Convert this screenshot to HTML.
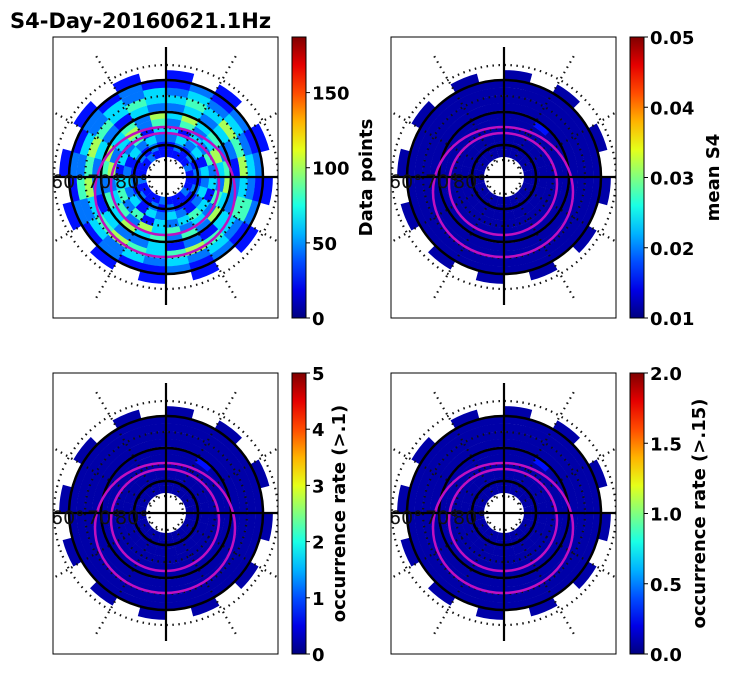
<!DOCTYPE html>
<html><head><meta charset="utf-8"><style>
body{margin:0;background:#fff;}
svg{display:block;font-family:"DejaVu Sans","Liberation Sans",sans-serif;}
</style></head><body>
<svg id="fig" width="731" height="674" viewBox="0 0 731 674">
<text x="10" y="28" font-size="21" font-weight="bold">S4-Day-20160621.1Hz</text>
</svg>
<script>
// Ring data: each string = 24 sectors clockwise from top; digit d -> value fraction d/9 of colour max; '.' = no data
const ringsCounts = [
 "111121112111211112111211",
 "121212121112121212112121",
 "232313232123231323213232",
 "313242313432314243132413",
 "242353242324352432523524",
 "353424535242435342453425",
 "232321223121322312232132",
 "343545343454345435454343",
 "232323242323232324232323",
 "121212121212112121212121",
 "1.1.1.1.1.1.1.1.1.1.1.1."
];
const ringsLow = [
 "000000000000000000000000",
 "000000000000000000000000",
 "000000000000000000000000",
 "000000000000000000000000",
 "000000000000000000000000",
 "001000000000000000000000",
 "000000000000000000000000",
 "000000000000000000000000",
 "000000000000000000000000",
 "000000000000000000000000",
 "0.0.0.0.0.0.0.0.0.0.0.0."
];
const cbTicks1 = ["0","50","100","150"];
const cbVals1 = [0,50,100,150];
const cbTicks2 = ["0.01","0.02","0.03","0.04","0.05"];
const cbVals2 = [0.01,0.02,0.03,0.04,0.05];
const cbTicks3 = ["0","1","2","3","4","5"];
const cbVals3 = [0,1,2,3,4,5];
const cbTicks4 = ["0.0","0.5","1.0","1.5","2.0"];
const cbVals4 = [0,0.5,1,1.5,2];

const NS="http://www.w3.org/2000/svg";
const fig=document.getElementById('fig');
function mk(tag,attrs,parent){const e=document.createElementNS(NS,tag);for(const k in attrs)e.setAttribute(k,attrs[k]);(parent||fig).appendChild(e);return e;}
function jet(t){t=Math.max(0,Math.min(1,t));
 const r=Math.max(0,Math.min(1,1.5-Math.abs(4*t-3))),g=Math.max(0,Math.min(1,1.5-Math.abs(4*t-2))),b=Math.max(0,Math.min(1,1.5-Math.abs(4*t-1)));
 return `rgb(${Math.round(r*255)},${Math.round(g*255)},${Math.round(b*255)})`;}
function pt(cx,cy,r,a){const t=(a-90)*Math.PI/180;return [cx+r*Math.cos(t),cy+r*Math.sin(t)];}

function panel(px,py,rings,cbx,ticks,vals,vmin,vmax,label,name){
 const W=225,H=281,cx=px+113,cy=py+140;
 const g=mk('g',{});
 
 
 const cp='clip-'+name;
 const d=mk('clipPath',{id:cp},g);mk('rect',{x:px,y:py,width:W,height:H},d);
 const inner=mk('g',{'clip-path':`url(#${cp})`},g);
 rings.forEach((s,i)=>{
  const r0=20+i*7.7,r1=r0+7.9+(i==10?2:0);
  for(let j=0;j<24;j++){const c=s[j];if(c==='.')continue;
   const a0=j*15,a1=a0+15.3;
   const p1=pt(cx,cy,r0,a0),p2=pt(cx,cy,r1,a0),p3=pt(cx,cy,r1,a1),p4=pt(cx,cy,r0,a1);
   const cell=mk('path',{d:`M${p1}L${p2}A${r1},${r1} 0 0 1 ${p3}L${p4}A${r0},${r0} 0 0 0 ${p1}Z`,fill:jet(0.04+(+c)/9*0.9)},inner);
   
   
  }});
 [112,81,49,17].forEach(r=>mk('circle',{cx,cy,r,fill:'none',stroke:'#111','stroke-width':2.2,'stroke-dasharray':'1.5 4.5'},inner));
 for(let a=0;a<360;a+=30){if(a%90===0)continue;const p=pt(cx,cy,18,a),q=pt(cx,cy,140,a);
  mk('line',{x1:p[0],y1:p[1],x2:q[0],y2:q[1],stroke:'#111','stroke-width':2.2,'stroke-dasharray':'1.5 4.5'},inner);}
 [97,65,32].forEach(r=>mk('circle',{cx,cy,r,fill:'none',stroke:'#000','stroke-width':2.5},inner));
 mk('ellipse',{cx:cx-1,cy:cy+15,rx:70,ry:65,fill:'none',stroke:'#c010c0','stroke-width':2.5},inner);
 mk('ellipse',{cx:cx-1,cy:cy+7,rx:54,ry:51,fill:'none',stroke:'#c010c0','stroke-width':2.5},inner);
 mk('line',{x1:cx,y1:py+10,x2:cx,y2:py+268,stroke:'#000','stroke-width':2.2},inner);
 mk('line',{x1:px,y1:cy,x2:px+W,y2:cy,stroke:'#000','stroke-width':2.2},inner);
 [["60°",px-2],["70°",px+34],["80°",px+62]].forEach(([t,x])=>{const e=mk('text',{x,y:cy+11,'font-size':19,fill:'#111'},inner);e.textContent=t;});
 mk('rect',{x:px,y:py,width:W,height:H,fill:'none',stroke:'#000','stroke-width':1},g);
 const gr='grad-'+name;const lg=mk('linearGradient',{id:gr,x1:0,y1:1,x2:0,y2:0},g);
 for(let k=0;k<=10;k++)mk('stop',{offset:k/10,'stop-color':jet(k/10)},lg);
 const cb=mk('rect',{x:cbx,y:py,width:14,height:H,fill:`url(#${gr})`,stroke:'#000','stroke-width':1},g);
 
 
 vals.forEach((v,i)=>{const y=py+H-(v-vmin)/(vmax-vmin)*H;
  mk('line',{x1:cbx+14,y1:y,x2:cbx+18,y2:y,stroke:'#000'},g);
  const t=mk('text',{x:cbx+20,y:y+7,'font-size':18,'font-weight':'bold'},g);t.textContent=ticks[i];
  
  });
 const lx=label[1],ly=py+H/2;
 const lt=mk('text',{x:lx,y:ly,'font-size':18,'font-weight':'bold','text-anchor':'middle',transform:`rotate(-90 ${lx} ${ly})`},g);
 lt.textContent=label[0];
 
 
}
panel(53,37,ringsCounts,292,cbTicks1,cbVals1,0,187,["Data points",372],'panel-data-points');
panel(391,37,ringsLow,630,cbTicks2,cbVals2,0.01,0.05,["mean S4",719],'panel-mean-s4');
panel(53,373,ringsLow,292,cbTicks3,cbVals3,0,5,["occurrence rate (>.1)",345],'panel-occurrence-01');
panel(391,373,ringsLow,630,cbTicks4,cbVals4,0,2,["occurrence rate (>.15)",705],'panel-occurrence-015');
</script>
</body></html>
